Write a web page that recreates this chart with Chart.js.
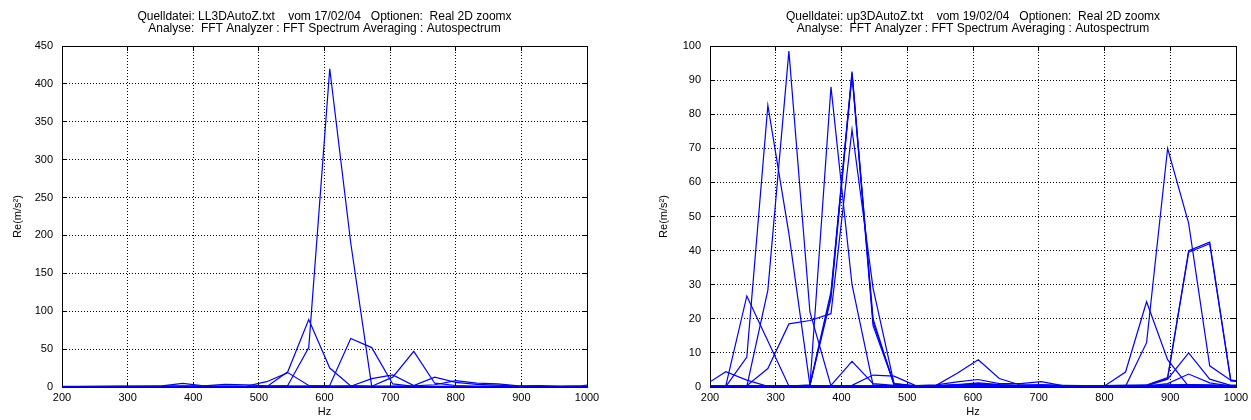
<!DOCTYPE html>
<html>
<head>
<meta charset="utf-8">
<title>Autospectrum</title>
<script src="https://cdn.jsdelivr.net/npm/chart.js@4.4.1/dist/chart.umd.min.js"></script>
<style>
  html, body { margin: 0; padding: 0; background: #fff; overflow: hidden; width: 1251px; height: 420px; }
  #wrap { position: relative; width: 1251px; height: 420px; overflow: hidden; }
  canvas { position: absolute; top: 0; }
  #c1 { left: 0; }
  #c2 { left: 655px; }
</style>
</head>
<body>
<div id="wrap">
  <canvas id="c1" width="649" height="420"></canvas>
  <canvas id="c2" width="636" height="420"></canvas>
</div>
<script>
// Frequency bins (Hz), 32 Hz resolution
const FREQ = [192, 224, 256, 288, 320, 352, 384, 416, 448, 480, 512, 544, 576, 608,
              640, 672, 704, 736, 768, 800, 832, 864, 896, 928, 960, 992, 1024];

const X_TICKS = [200, 300, 400, 500, 600, 700, 800, 900, 1000];
const Y_TICKS_LEFT = [0, 50, 100, 150, 200, 250, 300, 350, 400, 450];
const Y_TICKS_RIGHT = [0, 10, 20, 30, 40, 50, 60, 70, 80, 90, 100];

const TITLE_LEFT = ['Quelldatei: LL3DAutoZ.txt    vom 17/02/04   Optionen:  Real 2D zoomx',
                    'Analyse:  FFT Analyzer : FFT Spectrum Averaging : Autospectrum'];
const TITLE_RIGHT = ['Quelldatei: up3DAutoZ.txt    vom 19/02/04   Optionen:  Real 2D zoomx',
                     'Analyse:  FFT Analyzer : FFT Spectrum Averaging : Autospectrum'];
const X_LABEL = 'Hz';
const Y_LABEL = 'Re(m/s\u00B2)';

// LL3DAutoZ: measurement channels
const L1 = [0.6, 0.5, 0.6, 0.5, 0.7, 0.8, 1.0, 0.8, 0.6, 0.7, 0.8, 2.0, 52, 420, 190, 0.5, 0.6, 0.4, 0.5, 0.6, 0.5, 0.4, 0.5, 0.4, 0.5, 0.6, 0.5];
const L2 = [0.3, 0.4, 0.4, 0.5, 0.5, 0.6, 0.8, 0.6, 0.5, 0.6, 0.5, 20, 89, 25, 1.5, 0.6, 0.5, 0.5, 0.4, 0.5, 0.6, 0.5, 0.4, 0.5, 0.4, 0.5, 0.4];
const L3 = [0.4, 0.5, 0.5, 0.6, 0.6, 0.5, 0.7, 0.7, 0.8, 0.6, 0.7, 0.9, 1.2, 2.0, 64, 52, 4.0, 1.0, 0.6, 0.7, 0.6, 0.5, 0.6, 0.5, 0.6, 0.5, 0.6];
const L4 = [0.5, 0.6, 0.7, 0.8, 0.9, 1.0, 1.2, 1.0, 0.9, 1.0, 7.0, 19, 2.0, 1.0, 0.8, 0.7, 0.6, 0.7, 0.6, 0.5, 0.6, 0.7, 0.6, 0.5, 0.6, 0.7, 0.6];
const L5 = [0.3, 0.3, 0.4, 0.4, 0.5, 0.5, 0.6, 0.5, 0.5, 0.6, 0.6, 0.7, 0.6, 0.8, 1.0, 11, 16, 2.0, 13, 6.0, 3.5, 2.5, 1.0, 0.8, 0.7, 0.8, 0.7];
const L6 = [0.2, 0.3, 0.3, 0.3, 0.4, 0.4, 0.5, 0.4, 0.4, 0.5, 0.5, 0.6, 0.5, 0.6, 0.7, 1.0, 13, 47, 5.0, 2.0, 1.0, 0.8, 0.6, 0.5, 0.5, 0.6, 0.5];
const L7 = [0.8, 0.9, 1.0, 1.1, 1.2, 1.5, 4.8, 1.5, 3.5, 3.0, 1.5, 0.8, 0.9, 0.8, 0.7, 0.8, 0.9, 0.8, 0.7, 0.8, 0.9, 0.8, 0.7, 0.8, 0.7, 0.8, 0.9];
const L8 = [0.4, 0.5, 0.5, 0.6, 0.6, 0.7, 0.7, 0.8, 0.7, 0.8, 0.9, 1.0, 0.9, 1.0, 1.1, 1.0, 1.2, 1.5, 3.0, 8.5, 5.0, 4.0, 1.5, 2.0, 1.0, 1.5, 6.0];

// up3DAutoZ: measurement channels
const RA  = [0.5, 4.5, 2.0, 0.2, 0.2, 0.3, 0.2, 0.3, 0.2, 0.2, 0.3, 0.2, 0.2, 0.3, 0.2, 0.2, 0.3, 0.2, 0.2, 0.3, 0.2, 0.2, 0.3, 0.2, 0.2, 0.3, 0.2];
const RB  = [0.1, 0.1, 8.8, 82.6, 45, 0.5, 0.3, 0.2, 0.2, 0.1, 0.2, 0.1, 0.2, 0.3, 0.2, 0.1, 0.2, 0.1, 0.1, 0.2, 0.1, 0.2, 0.1, 0.2, 0.1, 0.2, 0.1];
const RC  = [0.2, 0.2, 0.2, 28.4, 98.5, 22, 0.3, 0.2, 0.2, 0.3, 0.2, 0.2, 0.3, 0.2, 0.2, 0.3, 0.2, 0.2, 0.2, 0.3, 0.2, 0.2, 0.3, 0.2, 0.2, 0.2, 0.3];
const RD  = [0.3, 0.3, 0.4, 5.4, 18.5, 19.5, 21.5, 75.5, 29, 1.0, 0.3, 0.3, 0.4, 0.5, 0.4, 0.3, 0.4, 0.3, 0.3, 0.4, 0.3, 0.3, 0.4, 0.3, 0.3, 0.4, 0.3];
const RE  = [0.2, 0.2, 0.3, 0.3, 0.3, 0.4, 88, 30, 0.6, 0.3, 0.2, 0.3, 0.2, 0.3, 0.2, 0.2, 0.3, 0.2, 0.2, 0.3, 0.2, 0.2, 0.3, 0.2, 0.2, 0.3, 0.2];
const RF1 = [0.2, 0.2, 0.2, 0.3, 0.3, 0.5, 27, 92.5, 19, 1.0, 0.4, 0.3, 0.5, 0.8, 0.5, 0.3, 0.4, 0.3, 0.3, 0.4, 0.3, 0.3, 0.4, 0.5, 0.4, 0.3, 0.3];
const RF2 = [0.3, 0.2, 0.3, 0.2, 0.4, 0.5, 26, 91.5, 18, 0.8, 0.3, 0.4, 0.6, 1.0, 0.6, 0.4, 0.5, 0.4, 0.3, 0.3, 0.4, 0.3, 0.5, 0.6, 0.5, 0.4, 0.3];
const RF3 = [0.2, 0.3, 0.2, 0.3, 0.3, 0.6, 28, 92, 20, 0.5, 0.4, 0.3, 0.7, 1.2, 0.7, 0.5, 0.6, 0.5, 0.4, 0.4, 0.3, 0.4, 0.6, 0.7, 0.6, 0.5, 0.4];
const RI  = [0.2, 0.3, 26.7, 13.5, 0.3, 0.2, 0.3, 0.2, 0.3, 0.2, 0.2, 0.3, 0.2, 0.2, 0.3, 0.2, 0.2, 0.3, 0.2, 0.2, 0.3, 0.2, 0.2, 0.3, 0.2, 0.2, 0.3];
const RS1 = [0.1, 0.2, 0.1, 0.2, 0.2, 0.3, 0.5, 7.5, 1.0, 0.5, 0.3, 0.2, 0.3, 0.4, 0.3, 0.2, 0.3, 0.2, 0.2, 0.3, 0.2, 0.2, 0.3, 0.2, 0.2, 0.3, 0.2];
const RS2 = [0.2, 0.2, 0.3, 0.2, 0.3, 0.3, 0.4, 0.5, 3.5, 3.2, 0.5, 0.4, 0.6, 0.8, 0.5, 0.4, 0.6, 0.4, 0.3, 0.4, 0.3, 0.3, 0.4, 0.3, 0.3, 0.4, 0.3];
const RG1 = [0.1, 0.1, 0.2, 0.1, 0.2, 0.2, 0.3, 0.2, 0.3, 0.3, 0.2, 0.5, 4.0, 8.0, 2.5, 0.6, 0.4, 0.3, 0.3, 0.4, 0.3, 0.3, 0.4, 0.3, 0.3, 0.4, 0.3];
const RG2 = [0.1, 0.2, 0.1, 0.2, 0.1, 0.2, 0.2, 0.3, 0.2, 0.3, 0.4, 0.6, 1.5, 2.2, 1.0, 1.0, 1.6, 0.4, 0.3, 0.4, 0.5, 0.4, 0.5, 0.4, 0.3, 0.4, 0.3];
const RH  = [0.1, 0.1, 0.2, 0.1, 0.1, 0.2, 0.1, 0.2, 0.1, 0.2, 0.2, 0.1, 0.2, 0.3, 0.2, 0.2, 0.3, 0.2, 0.2, 0.3, 4.4, 25, 8.0, 0.2, 0.2, 0.1, 0.2];
const RK  = [0.1, 0.2, 0.1, 0.1, 0.2, 0.1, 0.2, 0.1, 0.1, 0.2, 0.1, 0.2, 0.2, 0.3, 0.2, 0.1, 0.2, 0.2, 0.2, 0.2, 0.2, 13, 70, 48, 6.2, 2.0, 1.0];
const RM1 = [0.2, 0.1, 0.2, 0.2, 0.1, 0.2, 0.2, 0.3, 0.2, 0.2, 0.3, 0.2, 0.3, 0.5, 0.3, 0.2, 0.3, 0.2, 0.3, 0.3, 0.4, 0.5, 2.5, 40, 42.5, 2.0, 1.5];
const RM2 = [0.1, 0.2, 0.2, 0.1, 0.2, 0.2, 0.3, 0.2, 0.3, 0.2, 0.2, 0.3, 0.4, 0.6, 0.4, 0.3, 0.4, 0.3, 0.2, 0.4, 0.5, 0.6, 2.8, 39.5, 42, 1.8, 1.2];
const RN  = [0.1, 0.1, 0.1, 0.2, 0.1, 0.1, 0.2, 0.1, 0.2, 0.1, 0.1, 0.2, 0.2, 0.4, 0.2, 0.2, 0.3, 0.2, 0.1, 0.2, 0.2, 0.3, 2.3, 10, 2.3, 0.5, 0.3];
const RO  = [0.2, 0.1, 0.2, 0.1, 0.2, 0.1, 0.1, 0.2, 0.1, 0.2, 0.2, 0.1, 0.3, 0.5, 0.3, 0.2, 0.2, 0.3, 0.2, 0.2, 0.2, 0.3, 1.0, 3.8, 1.2, 0.3, 0.2];

const LEFT_SERIES  = [L1, L2, L3, L4, L5, L6, L7, L8];
const RIGHT_SERIES = [RA, RB, RC, RD, RE, RF1, RF2, RF3, RI, RS1, RS2, RG1, RG2, RH, RK, RM1, RM2, RN, RO];

const FONT = '"Liberation Sans", Arial, Helvetica, sans-serif';
const LINE_BLUE = '#0000ff';

function toDatasets(series) {
  return series.map((vals, k) => ({
    label: 'Kanal ' + (k + 1),
    data: FREQ.map((f, i) => ({ x: f, y: vals[i] })),
    borderColor: LINE_BLUE,
    borderWidth: 1.2,
    pointRadius: 0,
    tension: 0,
    fill: false
  }));
}

function tickValues(list) {
  return (scale) => { scale.ticks = list.map(v => ({ value: v })); };
}

const plainNumber = (v) => String(v);

function buildOptions(cfg) {
  const tickFont = { family: FONT, size: 11 };
  const gridCommon = {
    color: '#000',
    lineWidth: 1,
    drawTicks: true,
    tickLength: -5,
    tickColor: '#000',
    tickWidth: 1
  };
  return {
    responsive: false,
    animation: false,
    events: [],
    layout: { padding: 0 },
    plugins: {
      legend: { display: false },
      tooltip: { enabled: false },
      title: {
        display: true,
        text: cfg.title,
        color: '#000',
        font: { family: FONT, size: 12, weight: 'normal', lineHeight: 1.0 },
        padding: { top: 11, bottom: 11 }
      }
    },
    scales: {
      x: {
        type: 'linear', position: 'bottom',
        min: X_TICKS[0], max: X_TICKS[X_TICKS.length - 1],
        afterBuildTicks: tickValues(X_TICKS),
        ticks: { color: '#000', font: tickFont, padding: 9.4, maxRotation: 0, autoSkip: false, callback: plainNumber },
        grid: gridCommon,
        border: { display: true, color: '#000', width: 1, dash: [1, 2] },
        title: { display: true, text: X_LABEL, color: '#000', font: tickFont, padding: { top: 0, bottom: 1 } },
        afterFit: (s) => { s.height = 33; }
      },
      xTop: {
        type: 'linear', position: 'top',
        min: X_TICKS[0], max: X_TICKS[X_TICKS.length - 1],
        afterBuildTicks: tickValues(X_TICKS),
        ticks: { display: false },
        grid: Object.assign({}, gridCommon, { drawOnChartArea: false }),
        border: { display: true, color: '#000', width: 1 },
        afterFit: (s) => { s.height = 0; }
      },
      y: {
        type: 'linear', position: 'left',
        min: cfg.yTicks[0], max: cfg.yTicks[cfg.yTicks.length - 1],
        afterBuildTicks: tickValues(cfg.yTicks),
        ticks: { color: '#000', font: tickFont, padding: 14, callback: plainNumber },
        grid: gridCommon,
        border: { display: true, color: '#000', width: 1, dash: [1, 2] },
        title: { display: true, text: Y_LABEL, color: '#000', font: tickFont, padding: { top: cfg.yTitlePad, bottom: 0 } },
        afterFit: (s) => { s.width = cfg.leftW; }
      },
      yRight: {
        type: 'linear', position: 'right',
        min: cfg.yTicks[0], max: cfg.yTicks[cfg.yTicks.length - 1],
        afterBuildTicks: tickValues(cfg.yTicks),
        ticks: { display: false },
        grid: Object.assign({}, gridCommon, { drawOnChartArea: false }),
        border: { display: true, color: '#000', width: 1 },
        afterFit: (s) => { s.width = cfg.rightW; }
      }
    }
  };
}

new Chart(document.getElementById('c1'), {
  type: 'line',
  data: { datasets: toDatasets(LEFT_SERIES) },
  options: buildOptions({ title: TITLE_LEFT, yTicks: Y_TICKS_LEFT, leftW: 62, rightW: 62, yTitlePad: 11 })
});

new Chart(document.getElementById('c2'), {
  type: 'line',
  data: { datasets: toDatasets(RIGHT_SERIES) },
  options: buildOptions({ title: TITLE_RIGHT, yTicks: Y_TICKS_RIGHT, leftW: 55, rightW: 55, yTitlePad: 2.5 })
});
</script>
</body>
</html>
